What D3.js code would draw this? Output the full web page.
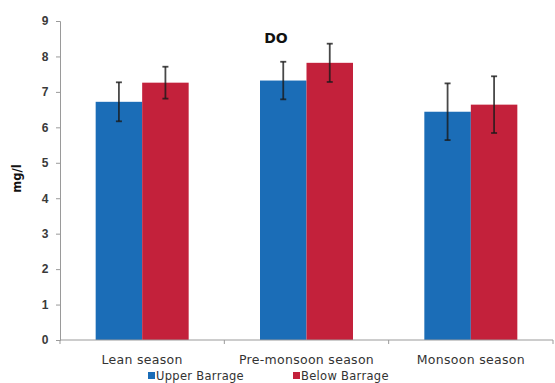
<!DOCTYPE html>
<html>
<head>
<meta charset="utf-8">
<script src="https://cdn.jsdelivr.net/npm/d3@7"></script>
<style>
  html, body { margin: 0; padding: 0; background: #fff; }
  svg { display: block; font-family: "DejaVu Sans", Verdana, sans-serif; }
</style>
</head>
<body>
<div id="chart"></div>
<script>
// Dissolved oxygen by season, upstream vs downstream of the barrage
const seasons = ["Lean season", "Pre-monsoon season", "Monsoon season"];
const seriesNames = ["Upper Barrage", "Below Barrage"];
const upperMean = [6.72, 7.32, 6.44];
const belowMean = [7.26, 7.82, 6.64];
const upperErr = [0.55, 0.53, 0.80];
const belowErr = [0.45, 0.54, 0.80];
const yTicks = [0, 1, 2, 3, 4, 5, 6, 7, 8, 9];
const colors = ["#1b6db7", "#c3213b"];

const W = 555, H = 383;
const margin = { left: 60, right: 2, top: 21, bottom: 43 };

const svg = d3.select("#chart").append("svg").attr("width", W).attr("height", H);

const x0 = d3.scaleBand().domain(seasons).range([margin.left, W - margin.right]).paddingInner(0).paddingOuter(0);
const y = d3.scaleLinear().domain([0, 9]).range([H - margin.bottom, margin.top]);
const groupWidth = 93;
const x1 = d3.scaleBand().domain(seriesNames).range([0, groupWidth]).padding(0);

const rows = seasons.map((s, i) => ({
  season: s,
  vals: [
    { name: seriesNames[0], mean: upperMean[i], err: upperErr[i] },
    { name: seriesNames[1], mean: belowMean[i], err: belowErr[i] }
  ]
}));

// y axis
const yAxis = svg.append("g").attr("transform", `translate(${margin.left},0)`)
  .call(d3.axisLeft(y).tickValues(yTicks).tickSize(4).tickPadding(16).tickFormat(d3.format("d")));
yAxis.select(".domain").attr("stroke", "#9a9a9a");
yAxis.selectAll(".tick line").attr("stroke", "#9a9a9a");
yAxis.selectAll(".tick text").attr("fill", "#3a3a3a").style("font-size", "12px").style("font-weight", "bold")
  .attr("text-anchor", "middle").attr("dx", "5");

// bars
const groups = svg.append("g").selectAll("g").data(rows).join("g")
  .attr("transform", d => `translate(${x0(d.season) + (x0.bandwidth() - groupWidth) / 2},0)`);

groups.selectAll("rect").data(d => d.vals).join("rect")
  .attr("x", d => x1(d.name))
  .attr("width", x1.bandwidth())
  .attr("y", d => y(d.mean))
  .attr("height", d => y(0) - y(d.mean))
  .attr("fill", (d, i) => colors[i]);

// error bars
const eb = groups.selectAll("g.err").data(d => d.vals).join("g").attr("class", "err")
  .attr("transform", d => `translate(${x1(d.name) + x1.bandwidth() / 2},0)`);
const errStroke = sel => sel.attr("stroke", "#1a1a1a").attr("stroke-width", 1.8).attr("stroke-opacity", 0.8);
eb.append("line").attr("x1", 0).attr("x2", 0)
  .attr("y1", d => y(d.mean + d.err)).attr("y2", d => y(d.mean - d.err)).call(errStroke);
eb.append("line").attr("x1", -3).attr("x2", 3)
  .attr("y1", d => y(d.mean + d.err)).attr("y2", d => y(d.mean + d.err)).call(errStroke);
eb.append("line").attr("x1", -3).attr("x2", 3)
  .attr("y1", d => y(d.mean - d.err)).attr("y2", d => y(d.mean - d.err)).call(errStroke);

// x axis with ticks at category boundaries
const xAxisG = svg.append("g").attr("transform", `translate(0,${y(0)})`);
xAxisG.append("line").attr("x1", margin.left).attr("x2", W - margin.right)
  .attr("y1", 0).attr("y2", 0).attr("stroke", "#9a9a9a");
const bounds = seasons.map(s => x0(s)).concat([x0.range()[1]]);
xAxisG.selectAll("line.tk").data(bounds).join("line").attr("class", "tk")
  .attr("x1", d => d).attr("x2", d => d).attr("y1", 0).attr("y2", 4).attr("stroke", "#9a9a9a");
xAxisG.selectAll("text").data(seasons).join("text")
  .attr("x", d => x0(d) + x0.bandwidth() / 2)
  .attr("y", 24)
  .attr("text-anchor", "middle")
  .attr("fill", "#333")
  .style("font-size", "12.5px")
  .style("letter-spacing", "0.3px")
  .text(d => d);

// y axis title
svg.append("text")
  .attr("transform", `translate(21,${(y(0) + y(9)) / 2 - 2}) rotate(-90)`)
  .attr("text-anchor", "middle")
  .style("font-size", "11.5px").style("font-weight", "bold").attr("fill", "#111")
  .text("mg/l");

// chart title
svg.append("text").attr("x", 276).attr("y", 43).attr("text-anchor", "middle")
  .style("font-size", "14px").style("font-weight", "bold").attr("fill", "#111")
  .text("DO");

// legend
const legendX = [148, 293];
const legend = svg.append("g").selectAll("g").data(seriesNames).join("g")
  .attr("transform", (d, i) => `translate(${legendX[i]},371)`);
legend.append("rect").attr("x", 0).attr("y", 1).attr("width", 7).attr("height", 7)
  .attr("fill", (d, i) => colors[i]);
legend.append("text").attr("x", 8).attr("y", 9)
  .style("font-size", "11.5px").style("letter-spacing", "0.3px").attr("fill", "#333").text(d => d);
</script>
</body>
</html>
